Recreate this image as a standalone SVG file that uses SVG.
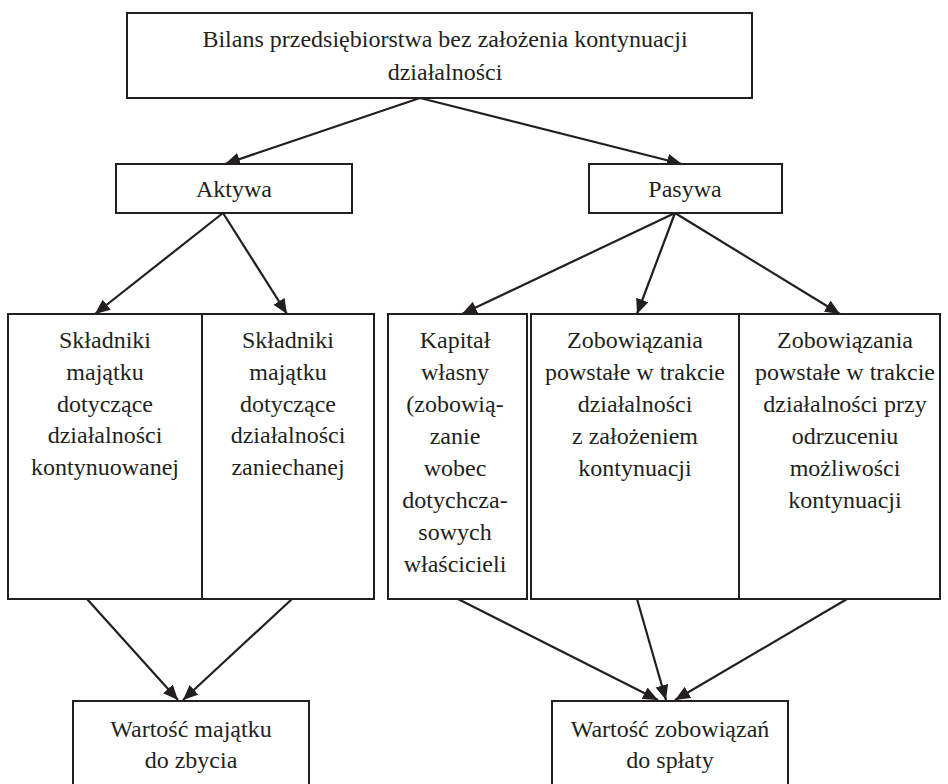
<svg xmlns="http://www.w3.org/2000/svg" width="948" height="784" viewBox="0 0 948 784">
  <defs>
    <marker id="arrow" markerUnits="userSpaceOnUse" markerWidth="16" markerHeight="14" refX="15" refY="7" orient="auto">
      <path d="M0,0.5 L15,7 L0,13.5 z" fill="#231f20"/>
    </marker>
    <style>
      .box { fill: #ffffff; stroke: #231f20; stroke-width: 2; }
      .lbl { font-family: 'Liberation Serif', 'DejaVu Serif', 'Times New Roman', serif; font-size: 24px; fill: #231f20; text-anchor: middle; }
      .con { stroke: #231f20; stroke-width: 2.2; fill: none; marker-end: url(#arrow); }
    </style>
  </defs>
  <rect width="948" height="784" fill="#ffffff"/>

  <!-- arrows between levels -->
  <g id="connectors">
    <line class="con" x1="420" y1="98" x2="225" y2="164"/>
    <line class="con" x1="420" y1="98" x2="682" y2="164"/>
    <line class="con" x1="223" y1="213" x2="95" y2="314"/>
    <line class="con" x1="223" y1="213" x2="287" y2="314"/>
    <line class="con" x1="675" y1="213" x2="462" y2="314"/>
    <line class="con" x1="675" y1="213" x2="637" y2="314"/>
    <line class="con" x1="675" y1="213" x2="840" y2="314"/>
    <line class="con" x1="87" y1="599" x2="178" y2="700"/>
    <line class="con" x1="292" y1="599" x2="183" y2="700"/>
    <line class="con" x1="458" y1="599" x2="658" y2="700"/>
    <line class="con" x1="637" y1="599" x2="666" y2="700"/>
    <line class="con" x1="847" y1="599" x2="675" y2="700"/>
  </g>

  <g id="bilans">
    <rect class="box" x="127" y="13" width="625" height="85"/>
    <text class="lbl" x="445" y="47">Bilans przedsiębiorstwa bez założenia kontynuacji</text>
    <text class="lbl" x="445" y="80">działalności</text>
  </g>

  <g id="aktywa">
    <rect class="box" x="116" y="164" width="236" height="49"/>
    <text class="lbl" x="234" y="197">Aktywa</text>
  </g>

  <g id="pasywa">
    <rect class="box" x="589" y="164" width="193" height="49"/>
    <text class="lbl" x="685" y="197">Pasywa</text>
  </g>

  <g id="skladniki-kontynuowane">
    <rect class="box" x="8" y="314" width="194" height="285"/>
    <text class="lbl" x="105" y="348">Składniki</text>
    <text class="lbl" x="105" y="380">majątku</text>
    <text class="lbl" x="105" y="412">dotyczące</text>
    <text class="lbl" x="105" y="443">działalności</text>
    <text class="lbl" x="105" y="475">kontynuowanej</text>
  </g>

  <g id="skladniki-zaniechane">
    <rect class="box" x="202" y="314" width="172" height="285"/>
    <text class="lbl" x="288" y="348">Składniki</text>
    <text class="lbl" x="288" y="380">majątku</text>
    <text class="lbl" x="288" y="412">dotyczące</text>
    <text class="lbl" x="288" y="443">działalności</text>
    <text class="lbl" x="288" y="475">zaniechanej</text>
  </g>

  <g id="kapital-wlasny">
    <rect class="box" x="388" y="314" width="139" height="285"/>
    <text class="lbl" x="455" y="348">Kapitał</text>
    <text class="lbl" x="455" y="380">własny</text>
    <text class="lbl" x="455" y="412">(zobowią-</text>
    <text class="lbl" x="455" y="444">zanie</text>
    <text class="lbl" x="455" y="476">wobec</text>
    <text class="lbl" x="455" y="508">dotychcza-</text>
    <text class="lbl" x="455" y="540">sowych</text>
    <text class="lbl" x="455" y="572">właścicieli</text>
  </g>

  <g id="zobowiazania-kontynuacja">
    <rect class="box" x="531" y="314" width="208" height="285"/>
    <text class="lbl" x="635" y="348">Zobowiązania</text>
    <text class="lbl" x="635" y="380">powstałe w trakcie</text>
    <text class="lbl" x="635" y="412">działalności</text>
    <text class="lbl" x="635" y="444">z założeniem</text>
    <text class="lbl" x="635" y="476">kontynuacji</text>
  </g>

  <g id="zobowiazania-likwidacja">
    <rect class="box" x="739" y="314" width="201" height="285"/>
    <text class="lbl" x="845" y="348">Zobowiązania</text>
    <text class="lbl" x="845" y="380">powstałe w trakcie</text>
    <text class="lbl" x="845" y="412">działalności przy</text>
    <text class="lbl" x="845" y="444">odrzuceniu</text>
    <text class="lbl" x="845" y="476">możliwości</text>
    <text class="lbl" x="845" y="508">kontynuacji</text>
  </g>

  <g id="wartosc-majatku">
    <rect class="box" x="73" y="701" width="236" height="95"/>
    <text class="lbl" x="191" y="737">Wartość majątku</text>
    <text class="lbl" x="191" y="768">do zbycia</text>
  </g>

  <g id="wartosc-zobowiazan">
    <rect class="box" x="552" y="701" width="236" height="95"/>
    <text class="lbl" x="670" y="737">Wartość zobowiązań</text>
    <text class="lbl" x="670" y="768">do spłaty</text>
  </g>
</svg>
